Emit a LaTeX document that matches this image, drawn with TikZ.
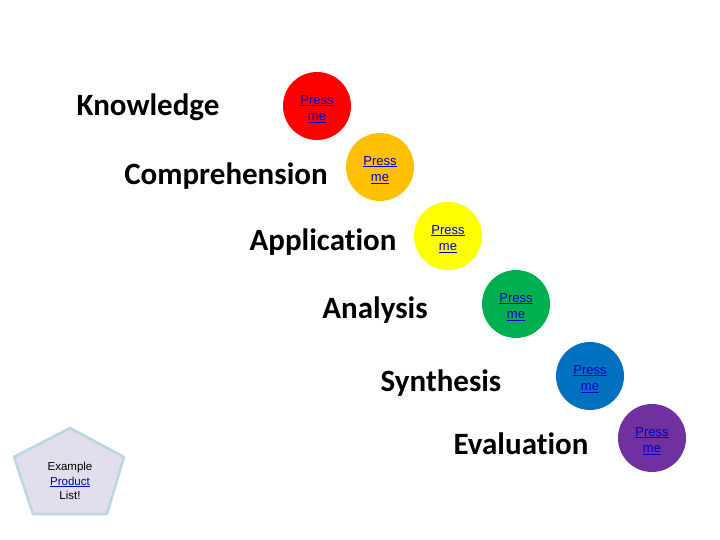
\documentclass[tikz,border=0pt]{standalone}
\usepackage{fontspec}
\setmainfont{Liberation Sans}
\newfontfamily\calib[Ligatures=NoCommon]{Carlito}
\definecolor{cRed}{HTML}{FF0000}
\definecolor{cOrange}{HTML}{FFC000}
\definecolor{cYellow}{HTML}{FFFF00}
\definecolor{cGreen}{HTML}{00B050}
\definecolor{cBlue}{HTML}{0070C0}
\definecolor{cPurple}{HTML}{7030A0}
\definecolor{linkblue}{HTML}{0000CC}
\definecolor{penfill}{HTML}{E2DEEC}
\definecolor{penline}{HTML}{B7D7E2}
\tikzset{
  level/.style={font=\calib\bfseries\fontsize{31}{36}\selectfont, text=black, inner sep=0pt},
  press/.style={circle, minimum size=68pt, inner sep=0pt},
  presstext/.style={inner sep=0pt, align=center, font=\fontsize{13}{16.5}\selectfont, text=linkblue},
}
\newcommand{\pressme}{\underline{Press}\\\underline{me}}
\begin{document}
\begin{tikzpicture}[x=1pt,y=-1pt]
\useasboundingbox (0,0) rectangle (720,540);
\node[level] (k) at (148,107) {Knowledge};
\node[level] (c) at (226,176) {Comprehension};
\node[level] (a) at (323,242) {Application};
\node[level] (an) at (375,310) {Analysis};
\node[level] (s) at (441,383) {Synthesis};
\node[level] (e) at (521,444) {Evaluation};
\node[press, fill=cRed] (p1) at (317,106) {};
\node[press, fill=cOrange] (p2) at (380,167) {};
\node[press, fill=cYellow] (p3) at (448,236) {};
\node[press, fill=cGreen] (p4) at (516,304) {};
\node[press, fill=cBlue] (p5) at (590,376) {};
\node[press, fill=cPurple] (p6) at (652,438) {};
\foreach \p in {p1,p2,p3,p4,p5,p6}
  \node[presstext] (\p t) at ([yshift=-3pt]\p.center) {\pressme};
\draw[fill=penfill, draw=penline, line width=2.5pt, line join=round]
  (70,428) -- (124,457) -- (107,514) -- (33,514) -- (14,457) -- cycle;
\node[align=center, font=\fontsize{11.5}{14.2}\selectfont, inner sep=0pt] (ptxt) at (70,481)
  {Example\\\textcolor{linkblue}{\underline{Product}}\\List!};
\end{tikzpicture}
\end{document}
